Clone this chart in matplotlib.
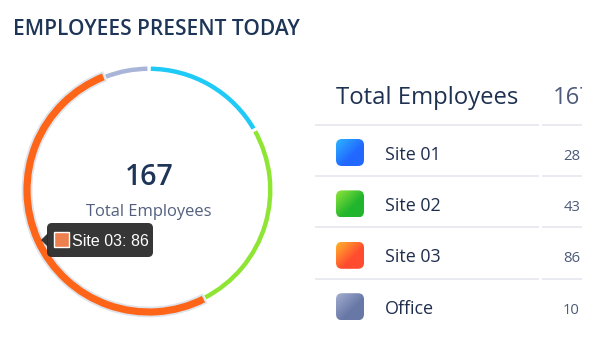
import matplotlib
matplotlib.use("Agg")
import matplotlib.pyplot as plt
import numpy as np
from matplotlib.colors import to_rgb
from matplotlib.patches import FancyBboxPatch, Polygon, Rectangle
from matplotlib.transforms import Bbox, TransformedBbox

title = "EMPLOYEES PRESENT TODAY"
labels = ["Site 01", "Site 02", "Site 03", "Office"]
values = [28, 43, 86, 10]
ring_colors = ["#1fcaf6", "#8fe533", "#ff6519", "#a9b5d8"]
icon_colors = [("#2cb4ff", "#2268ff"), ("#90e63a", "#22b52e"),
               ("#ffb42c", "#ff4b2f"), ("#a3aed0", "#6878a6")]
hovered = 2
total = sum(values)

W, H = 600, 337


def Y(y):
    # layout is measured from the top edge
    return H - y


fig = plt.figure(figsize=(6, 3.37), dpi=100)
ax = fig.add_axes([0, 0, 1, 1])

# donut
cx, cy = 149, 190
wedges, _ = ax.pie(values, colors=ring_colors, center=(cx, Y(cy)), radius=125,
                   startangle=90, counterclock=False,
                   wedgeprops=dict(width=7.5, edgecolor="white", linewidth=2.2))
hw = wedges[hovered]
hw.set_radius(126.5)
hw.set_width(9)
hw.set_edgecolor("#dfe4ea")
hw.set_linewidth(1.3)
hw.set_zorder(3)

ax.text(cx, Y(185), str(total), ha="center", va="baseline", fontsize=20.5,
        color="#1e3557", family="Open Sans", fontweight="semibold")
ax.text(cx, Y(216), "Total Employees", ha="center", va="baseline", fontsize=11.9,
        color="#52607e", family="Open Sans")

# tooltip for the hovered slice
ax.add_patch(FancyBboxPatch((47, Y(257)), 106, 34,
                            boxstyle="round,pad=0,rounding_size=5",
                            fc="#2b2b2b", ec="none", alpha=0.95, zorder=5))
ax.add_patch(Polygon([(41, Y(240)), (48, Y(233)), (48, Y(247))], closed=True,
                     fc="#2b2b2b", ec="none", alpha=0.95, zorder=5))
ax.add_patch(Rectangle((54, Y(247)), 15, 15, fc="#ee7f4f", ec="white",
                       lw=1.0, zorder=6))
ax.text(72, Y(246.5), f"{labels[hovered]}: {values[hovered]}", ha="left",
        va="baseline", fontsize=11.5, color="white", family="Liberation Sans",
        zorder=6)

# title
ax.text(13, Y(35), title, ha="left", va="baseline", fontsize=15,
        color="#1e3557", family="Open Sans", fontweight="semibold")

# table
clip = TransformedBbox(Bbox([[0, 0], [582, H]]), ax.transData)
ax.text(336, Y(104), "Total Employees", ha="left", va="baseline", fontsize=17.2,
        color="#1f3150", family="Open Sans")
t = ax.text(553, Y(104), str(total), ha="left", va="baseline", fontsize=17.2,
            color="#4d5b78", family="Open Sans", clip_on=True)
t.set_clip_box(clip)

for i in range(len(labels)):
    ly = 125 + 51.2 * i
    ax.plot([315, 538.5], [Y(ly), Y(ly)], color="#e5e8ee", lw=1.2,
            solid_capstyle="butt")
    ax.plot([541.5, 582], [Y(ly), Y(ly)], color="#e5e8ee", lw=1.2,
            solid_capstyle="butt")

for i, (lab, val) in enumerate(zip(labels, values)):
    base = 160 + 51.2 * i
    icy = 152.5 + 51.4 * i
    # gradient rounded icon, light in the top-left corner
    c0, c1 = np.array(to_rgb(icon_colors[i][0])), np.array(to_rgb(icon_colors[i][1]))
    g = np.linspace(0, 1, 40)
    tt = np.clip((g[None, :] + g[:, None]) / 1.2, 0, 1)
    img = c0 + (c1 - c0) * tt[..., None]
    box = FancyBboxPatch((336, Y(icy + 13.5)), 28, 27,
                         boxstyle="round,pad=0,rounding_size=6",
                         fc="none", ec="none")
    ax.add_patch(box)
    im = ax.imshow(img, extent=(336, 364, Y(icy + 13.5), Y(icy - 13.5)),
                   origin="upper", interpolation="bilinear", zorder=2)
    im.set_clip_path(box)

    ax.text(385, Y(base), lab, ha="left", va="baseline", fontsize=12.9,
            color="#1f2d4d", family="Open Sans")
    ax.text(580, Y(base), str(val), ha="right", va="baseline", fontsize=10.7,
            color="#4d5b78", family="Open Sans")

ax.set_xlim(0, W)
ax.set_ylim(0, H)
ax.set_aspect("auto")
ax.axis("off")

fig.savefig("out.png", dpi=100, facecolor="white")
